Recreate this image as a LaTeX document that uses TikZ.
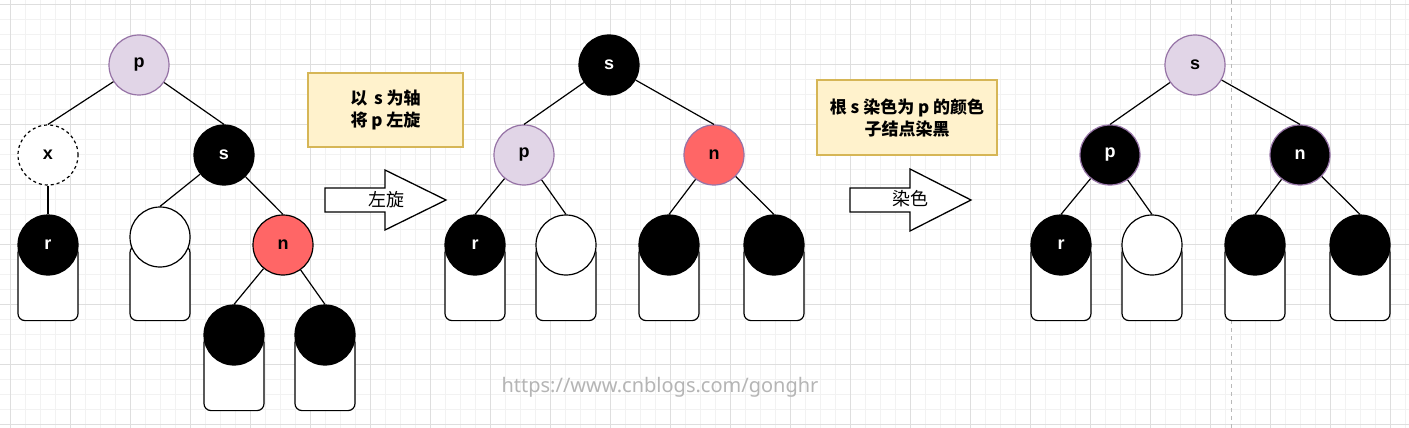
\documentclass[tikz,border=0pt]{standalone}
\usepackage{fontspec}
\setmainfont{Liberation Sans}
\newfontfamily\cjk{Noto Sans CJK SC}
\newfontfamily\wmfont{Noto Sans}
\definecolor{lav}{HTML}{E1D5E7}
\definecolor{lavd}{HTML}{9673A6}
\definecolor{redc}{HTML}{FF6666}
\definecolor{yel}{HTML}{FFF2CC}
\definecolor{yeld}{HTML}{D6B656}
\definecolor{gmin}{HTML}{F2F2F2}
\definecolor{gmaj}{HTML}{DEDEDE}
\definecolor{wm}{HTML}{B5B5B5}
\tikzset{
  vert/.style={circle,minimum size=60pt,inner sep=0pt,line width=1.2pt,
    font=\bfseries\fontsize{18}{18}\selectfont},
  lavn/.style={vert,fill=lav,draw=lavd},
  blkn/.style={vert,fill=black,draw=black,text=white},
  blkp/.style={vert,fill=black,draw=lavd,text=white},
  redn/.style={vert,fill=redc,draw=black},
  redp/.style={vert,fill=redc,draw=lavd},
  whtn/.style={vert,fill=white,draw=black},
  dashn/.style={vert,fill=white,draw=black,dashed},
  subrect/.style={rectangle,anchor=north,minimum width=60pt,minimum height=75pt,
    inner sep=0pt,rounded corners=7pt,fill=white,draw=black,line width=1.2pt},
  edge/.style={draw=black,line width=1.2pt},
  note/.style={rectangle,fill=yel,draw=yeld,line width=1.2pt,inner sep=0pt,
    align=center,font=\cjk\bfseries\fontsize{17}{22}\selectfont},
  blockarrow/.style={draw=black,fill=white,line width=1.3pt,line join=miter},
  arrlabel/.style={font=\cjk\fontsize{18}{18}\selectfont,inner sep=0pt},
}
\begin{document}
\begin{tikzpicture}[x=1pt,y=-1pt]
\useasboundingbox (0,0) rectangle (1409,428);
\fill[white] (0,0) rectangle (1409,428);
% grid
\foreach \gx in {-5,10,...,1409} {\draw[gmin,line width=0.8pt] (\gx,0) -- (\gx,428);}
\foreach \gy in {4,19,...,428} {\draw[gmin,line width=0.8pt] (0,\gy) -- (1409,\gy);}
\foreach \gx in {10,70,...,1409} {\draw[gmaj,line width=0.8pt] (\gx,0) -- (\gx,428);}
\foreach \gy in {4,64,...,428} {\draw[gmaj,line width=0.8pt] (0,\gy) -- (1409,\gy);}
\draw[gray!55,line width=0.9pt,dash pattern=on 4pt off 4pt] (1231,0) -- (1231,428);

% ---------- tree 1 ----------
\node[subrect] (r1b) at (48,245) {};
\node[subrect] (w1b) at (160,245) {};
\node[subrect] (c1b) at (234,335) {};
\node[subrect] (d1b) at (325,335) {};
\node[lavn] (p1) at (139,65) {p};
\node[dashn] (x1) at (48,155) {x};
\node[blkn] (s1) at (224,155) {s};
\node[blkn] (r1) at (48,245) {r};
\node[whtn] (w1) at (160,237) {};
\node[redn] (n1) at (283,245) {n};
\node[blkn] (c1) at (234,335) {};
\node[blkn] (d1) at (325,335) {};
\draw[edge] (p1) -- (x1.north);
\draw[edge] (p1) -- (s1.north);
\draw[edge] (x1) -- (r1.north);
\draw[edge] (s1) -- (w1.north);
\draw[edge] (s1) -- (n1.north);
\draw[edge] (n1) -- (c1.north);
\draw[edge] (n1) -- (d1.north);

% ---------- note + arrow 1 ----------
\node[note,minimum width=155pt,minimum height=74pt] (t1) at (385.5,110) {以 \,s 为轴\\将 p 左旋};
\draw[blockarrow] (325,188) -- (385,188) -- (385,170) -- (446,200) -- (385,230) -- (385,212) -- (325,212) -- cycle;
\node[arrlabel] (a1) at (386,200) {左旋};

% ---------- tree 2 ----------
\node[subrect] (r2b) at (475,245) {};
\node[subrect] (w2b) at (566,245) {};
\node[subrect] (c2b) at (669,245) {};
\node[subrect] (d2b) at (774,245) {};
\node[blkn] (s2) at (609,65) {s};
\node[lavn] (p2) at (524,155) {p};
\node[redp] (n2) at (714,155) {n};
\node[blkn] (r2) at (475,245) {r};
\node[whtn] (w2) at (566,245) {};
\node[blkn] (c2) at (669,245) {};
\node[blkn] (d2) at (774,245) {};
\draw[edge] (s2) -- (p2.north);
\draw[edge] (s2) -- (n2.north);
\draw[edge] (p2) -- (r2.north);
\draw[edge] (p2) -- (w2.north);
\draw[edge] (n2) -- (c2.north);
\draw[edge] (n2) -- (d2.north);

% ---------- note + arrow 2 ----------
\node[note,minimum width=180pt,minimum height=75pt] (t2) at (907,117.5) {根 s 染色为 p 的颜色\\子结点染黑};
\draw[blockarrow] (850,188) -- (910,188) -- (910,169) -- (971,200) -- (910,231) -- (910,212) -- (850,212) -- cycle;
\node[arrlabel] (a2) at (910,199) {染色};

% ---------- tree 3 ----------
\node[subrect] (r3b) at (1061,245) {};
\node[subrect] (w3b) at (1152,245) {};
\node[subrect] (c3b) at (1255,245) {};
\node[subrect] (d3b) at (1360,245) {};
\node[lavn] (s3) at (1195,65) {s};
\node[blkp] (p3) at (1110,155) {p};
\node[blkp] (n3) at (1300,155) {n};
\node[blkn] (r3) at (1061,245) {r};
\node[whtn] (w3) at (1152,245) {};
\node[blkn] (c3) at (1255,245) {};
\node[blkn] (d3) at (1360,245) {};
\draw[edge] (s3) -- (p3.north);
\draw[edge] (s3) -- (n3.north);
\draw[edge] (p3) -- (r3.north);
\draw[edge] (p3) -- (w3.north);
\draw[edge] (n3) -- (c3.north);
\draw[edge] (n3) -- (d3.north);

% watermark
\node[font=\wmfont\fontsize{20}{20}\selectfont,text=wm,inner sep=0pt] (wmk) at (660,387) {https://www.cnblogs.com/gonghr};
\end{tikzpicture}
\end{document}
